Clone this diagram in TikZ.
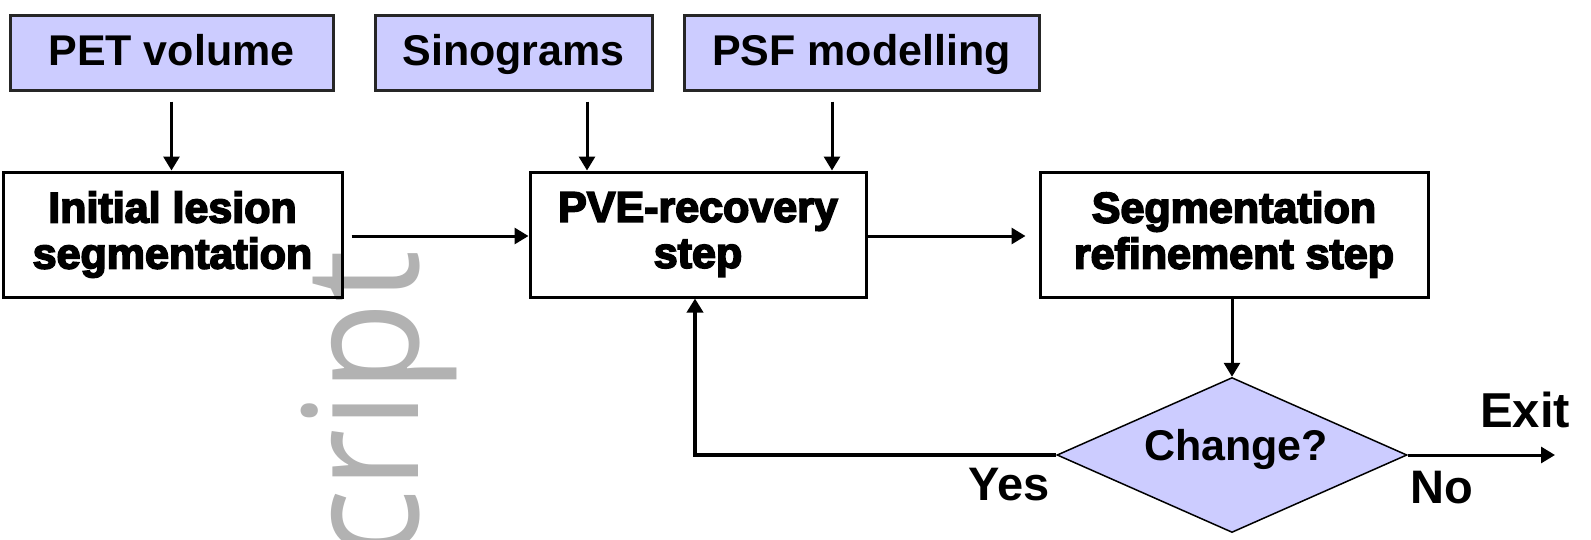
\documentclass[tikz,border=0pt]{standalone}
\usepackage{fontspec}
\setmainfont{Liberation Sans}
\newfontfamily\heavyfont{Liberation Sans}[BoldFeatures={FakeBold=4}]
\newfontfamily\wmfont{Open Sans}
\usetikzlibrary{shapes.geometric,arrows.meta,calc}
\definecolor{boxblue}{HTML}{CCCCFF}
\tikzset{
  inbox/.style={draw=black!85, line width=3pt, fill=boxblue, minimum height=75pt, inner sep=0pt,
    font=\bfseries\fontsize{43}{48}\selectfont, text height=31pt, text depth=6pt},
  procbox/.style={draw, line width=3pt, minimum height=125pt, inner sep=0pt, align=center,
    font=\heavyfont\bfseries\fontsize{43}{46}\selectfont},
  decision/.style={diamond, draw, line width=1.5pt, fill=boxblue, minimum width=350pt,
    minimum height=155pt, inner sep=0pt},
  lbl/.style={inner sep=0pt, font=\bfseries\fontsize{47}{50}\selectfont},
  arr/.style={line width=3pt, -{Triangle[length=14pt,width=16pt]}},
  watermark/.style={inner sep=0pt, text=black!30, font=\wmfont\fontsize{160}{160}\selectfont}
}
\begin{document}
\begin{tikzpicture}[x=1pt,y=-1pt]
\useasboundingbox (0,0) rectangle (1591,539);
% watermark
\node[watermark, rotate=90, xscale=0.92, anchor=base west] (wm) at (418,560) {cript};
% input boxes
\node[inbox, minimum width=323pt] (pet) at (171.5,52.5) {PET volume};
\node[inbox, minimum width=277pt] (sino) at (513.5,52.5) {Sinograms};
\node[inbox, minimum width=355pt] (psf) at (861.5,52.5) {PSF modelling};
% process boxes
\node[procbox, minimum width=339pt] (init) at (172.5,234.5) {Initial lesion\\segmentation};
\node[procbox, minimum width=336pt] (pve) at (698,234.5) {PVE-recovery\\step};
\node[procbox, minimum width=388pt] (seg) at (1234,234.5) {Segmentation\\refinement step};
% decision
\node[decision] (dia) at (1232,455) {};
\node[inner sep=0pt, anchor=base, font=\bfseries\fontsize{43}{48}\selectfont] (chg) at (1236,460) {Change?};
% labels
\node[lbl, anchor=base east] (yes) at (1050,500) {Yes};
\node[lbl, anchor=base west] (no) at (1410,503) {No};
\node[lbl, anchor=base west, font=\bfseries\fontsize{49}{52}\selectfont] (exit) at (1480,427) {Exit};
\coordinate (exitpt) at (1555,455);
% connectors
\draw[arr] ([yshift=-10pt]pet.south) -- (pet.south |- init.north);
\draw[arr] ([xshift=73.5pt,yshift=-10pt]sino.south) -- ([xshift=73.5pt]sino.south |- pve.north);
\draw[arr] ([xshift=-29.5pt,yshift=-10pt]psf.south) -- ([xshift=-29.5pt]psf.south |- pve.north);
\draw[arr] ([xshift=8pt,yshift=-1.5pt]init.east) -- ([yshift=-1.5pt]pve.west);
\draw[arr] ([yshift=-1.5pt]pve.east) -- ([xshift=-13pt,yshift=-1.5pt]seg.west);
\draw[arr] (seg.south -| dia.north) -- (dia.north);
\draw[arr] (dia.east) -- (exitpt);
\draw[arr, line width=4pt] (dia.west) -| ([xshift=-3pt]pve.south);
\end{tikzpicture}
\end{document}
